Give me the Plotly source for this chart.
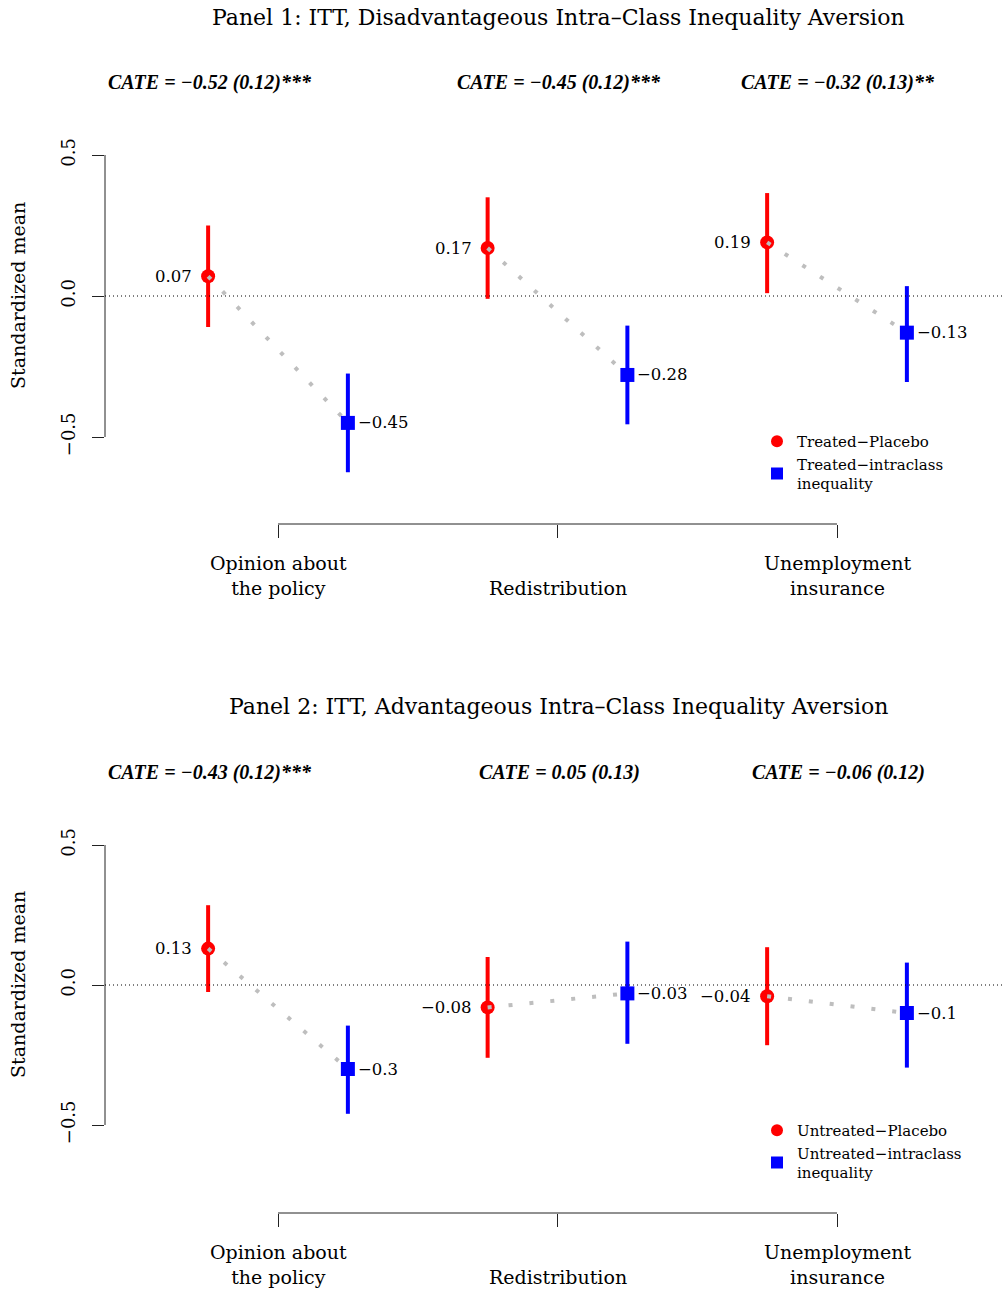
import plotly.graph_objects as go

# ---------------- data ----------------
categories = ["Opinion about<br>the policy", "Redistribution", "Unemployment<br>insurance"]

p1_red = [0.07, 0.17, 0.19]
p1_red_lo = [-0.11, -0.01, 0.01]
p1_red_hi = [0.25, 0.35, 0.365]
p1_blue = [-0.45, -0.28, -0.13]
p1_blue_lo = [-0.625, -0.455, -0.305]
p1_blue_hi = [-0.275, -0.105, 0.035]
p1_cate_est = [-0.52, -0.45, -0.32]
p1_cate_se = [0.12, 0.12, 0.13]
p1_cate_stars = ["***", "***", "**"]

p2_red = [0.13, -0.08, -0.04]
p2_red_lo = [-0.025, -0.26, -0.215]
p2_red_hi = [0.285, 0.10, 0.135]
p2_blue = [-0.30, -0.03, -0.10]
p2_blue_lo = [-0.46, -0.21, -0.295]
p2_blue_hi = [-0.145, 0.155, 0.08]
p2_cate_est = [-0.43, 0.05, -0.06]
p2_cate_se = [0.12, 0.13, 0.12]
p2_cate_stars = ["***", "", ""]

panel_titles = ["Panel 1: ITT, Disadvantageous Intra\u2013Class Inequality Aversion",
                "Panel 2: ITT, Advantageous Intra\u2013Class Inequality Aversion"]
legend_names = [["Treated\u2212Placebo", "Treated\u2212intraclass<br>inequality"],
                ["Untreated\u2212Placebo", "Untreated\u2212intraclass<br>inequality"]]
y_ticks = [-0.5, 0.0, 0.5]
y_tick_text = ["\u22120.5", "0.0", "0.5"]
y_title = "Standardized mean"

# ---------------- layout helpers ----------------
W, H = 1005, 1292
FONT = "DejaVu Serif"
CATE_FONT = "Liberation Serif"
RED, BLUE, GRAY = "#FF0000", "#0000FF", "#BEBEBE"
OFF = 0.25


def px_x(p):
    return p / W


def px_y(p):
    return 1 - p / H


def fmt(v):
    return f"{v:g}".replace("-", "\u2212")


def fmt2(v):
    return f"{v:.2f}".replace("-", "\u2212")


fig = go.Figure()
annotations = []
shapes = []

panels = [
    dict(red=p1_red, rlo=p1_red_lo, rhi=p1_red_hi, blue=p1_blue, blo=p1_blue_lo, bhi=p1_blue_hi,
         est=p1_cate_est, se=p1_cate_se, stars=p1_cate_stars, top=60, bottom=524,
         zero=296, scale=282, title_y=17, cate_y=83, legend_top=425, lab1=563, lab2=588),
    dict(red=p2_red, rlo=p2_red_lo, rhi=p2_red_hi, blue=p2_blue, blo=p2_blue_lo, bhi=p2_blue_hi,
         est=p2_cate_est, se=p2_cate_se, stars=p2_cate_stars, top=750, bottom=1213,
         zero=985, scale=280, title_y=706, cate_y=772, legend_top=1114, lab1=1252, lab2=1277),
]

xpos = [1, 2, 3]
cate_px = [210, 559, 838]

for i, P in enumerate(panels):
    xa = "x" if i == 0 else "x2"
    ya = "y" if i == 0 else "y2"
    lg = "legend" if i == 0 else "legend2"
    xr = [x - OFF for x in xpos]
    xb = [x + OFF for x in xpos]

    # red: error bars + markers
    fig.add_trace(go.Scatter(
        x=xr, y=P["red"], mode="markers", xaxis=xa, yaxis=ya, showlegend=False,
        marker=dict(color=RED, size=14, symbol="circle"),
        error_y=dict(type="data", symmetric=False,
                     array=[h - v for h, v in zip(P["rhi"], P["red"])],
                     arrayminus=[v - l for v, l in zip(P["red"], P["rlo"])],
                     color=RED, thickness=4, width=0),
        hoverinfo="skip"))
    # gray connectors
    for k in range(3):
        fig.add_trace(go.Scatter(
            x=[xr[k], xb[k]], y=[P["red"][k], P["blue"][k]], mode="lines",
            xaxis=xa, yaxis=ya, showlegend=False,
            line=dict(color=GRAY, width=4, dash="4px,17px"), hoverinfo="skip"))
    # blue: error bars + markers
    fig.add_trace(go.Scatter(
        x=xb, y=P["blue"], mode="markers", xaxis=xa, yaxis=ya, showlegend=False,
        marker=dict(color=BLUE, size=14, symbol="square"),
        error_y=dict(type="data", symmetric=False,
                     array=[h - v for h, v in zip(P["bhi"], P["blue"])],
                     arrayminus=[v - l for v, l in zip(P["blue"], P["blo"])],
                     color=BLUE, thickness=4, width=0),
        hoverinfo="skip"))
    # legend entries
    fig.add_trace(go.Scatter(x=[None], y=[None], mode="markers", xaxis=xa, yaxis=ya,
                             name=legend_names[i][0], legend=lg,
                             marker=dict(color=RED, size=8, symbol="circle")))
    fig.add_trace(go.Scatter(x=[None], y=[None], mode="markers", xaxis=xa, yaxis=ya,
                             name=legend_names[i][1], legend=lg,
                             marker=dict(color=BLUE, size=8, symbol="square")))

    # value labels
    for k in range(3):
        annotations.append(dict(x=xr[k], y=P["red"][k], xref=xa, yref=ya, text=fmt(P["red"][k]),
                                showarrow=False, xanchor="right", yanchor="middle", xshift=-14,
                                font=dict(family=FONT, size=16.5, color="black")))
        annotations.append(dict(x=xb[k], y=P["blue"][k], xref=xa, yref=ya, text=fmt(P["blue"][k]),
                                showarrow=False, xanchor="left", yanchor="middle", xshift=8,
                                font=dict(family=FONT, size=16.5, color="black")))
    # CATE texts
    for k in range(3):
        annotations.append(dict(x=px_x(cate_px[k]), y=px_y(P["cate_y"]), xref="paper", yref="paper",
                                text=f"<b><i>CATE = {fmt2(P['est'][k])} ({P['se'][k]:.2f}){P['stars'][k]}</i></b>",
                                showarrow=False, xanchor="center", yanchor="middle",
                                font=dict(family=CATE_FONT, size=20, color="black")))
    # panel title
    annotations.append(dict(x=px_x(558), y=px_y(P["title_y"]), xref="paper", yref="paper",
                            text=panel_titles[i], showarrow=False, xanchor="center", yanchor="middle",
                            font=dict(family=FONT, size=22, color="black")))
    # y title
    annotations.append(dict(x=px_x(18), y=0, xref="paper", yref=ya, text=y_title, textangle=-90,
                            showarrow=False, xanchor="center", yanchor="middle",
                            font=dict(family=FONT, size=19, color="black")))
    # category labels
    for k in range(3):
        nlines = categories[k].count("<br>") + 1
        yc = (P["lab1"] + P["lab2"]) / 2 if nlines == 2 else P["lab2"]
        annotations.append(dict(x=xpos[k], y=px_y(yc), xref=xa, yref="paper", text=categories[k],
                                showarrow=False, xanchor="center", yanchor="middle",
                                font=dict(family=FONT, size=19, color="black")))

    # axis lines + zero line
    shapes.append(dict(type="line", xref=f"{xa} domain", yref=ya, x0=0, x1=0, y0=-0.5, y1=0.5,
                       line=dict(color="#222", width=1)))
    shapes.append(dict(type="line", xref=xa, yref=f"{ya} domain", x0=1, x1=3, y0=0, y1=0,
                       line=dict(color="#222", width=1)))
    shapes.append(dict(type="line", xref=f"{xa} domain", yref=ya, x0=0, x1=1, y0=0, y1=0,
                       line=dict(color="black", width=1, dash="1px,3px")))

x_left = 105
x_unit = 279.5
x_range = [1 - (278 - x_left) / x_unit, 1 + (W - 278) / x_unit]


def yaxis_cfg(P, anchor):
    return dict(domain=[px_y(P["bottom"]), px_y(P["top"])], anchor=anchor,
                range=[(P["zero"] - P["bottom"]) / P["scale"], (P["zero"] - P["top"]) / P["scale"]],
                tickvals=y_ticks, ticktext=y_tick_text,
                tickangle=-90, ticks="outside", ticklen=12, tickcolor="#222",
                showline=False, showgrid=False, zeroline=False, ticklabelstandoff=10,
                tickfont=dict(family=FONT, size=18, color="black"))


def xaxis_cfg(anchor):
    return dict(domain=[x_left / W, 1], range=x_range, anchor=anchor, tickvals=xpos,
                ticks="outside", ticklen=13, tickcolor="#222", showticklabels=False,
                showline=False, showgrid=False, zeroline=False)


def legend_cfg(P):
    return dict(x=px_x(757), y=px_y(P["legend_top"]), xanchor="left", yanchor="top",
                font=dict(family=FONT, size=15, color="black"), bgcolor="rgba(0,0,0,0)",
                tracegroupgap=0, itemsizing="constant")


fig.update_layout(
    width=W, height=H, margin=dict(l=0, r=0, t=0, b=0),
    paper_bgcolor="white", plot_bgcolor="white",
    xaxis=xaxis_cfg("y"), yaxis=yaxis_cfg(panels[0], "x"),
    xaxis2=xaxis_cfg("y2"), yaxis2=yaxis_cfg(panels[1], "x2"),
    annotations=annotations, shapes=shapes,
    legend=legend_cfg(panels[0]), legend2=legend_cfg(panels[1]),
    showlegend=True,
)

fig.write_html("out.html")
